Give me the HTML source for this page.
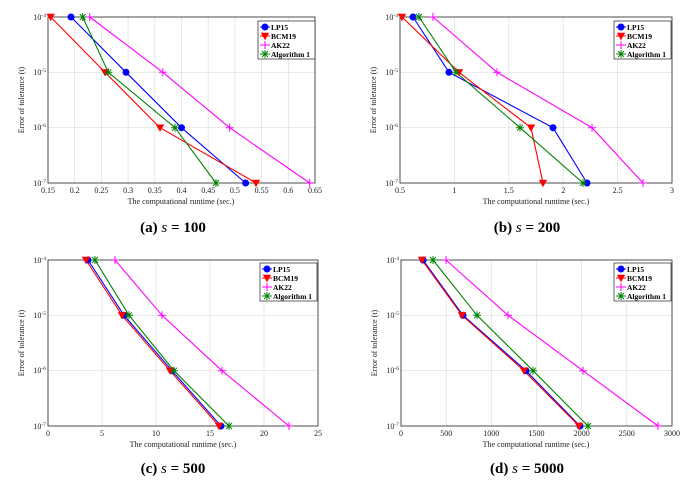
<!DOCTYPE html>
<html><head><meta charset="utf-8"><style>
body{margin:0;background:#fff}
svg{display:block;font-family:"Liberation Serif",serif}
.t{font-size:8px;fill:#222}
.g{stroke:#ddd;stroke-width:0.7}
.bx{fill:none;stroke:#222;stroke-width:0.8}
.lab{font-size:8px;fill:#222}
.cap{font-size:15px;font-weight:bold;fill:#000}
.lg{font-size:7.5px;font-weight:bold;fill:#000}
polyline{stroke-width:1.1}
</style></head><body>
<svg width="693" height="483" viewBox="0 0 693 483">
<defs>
<circle id="c" r="3.5" fill="#0000ff"/>
<path id="v" d="M-4.2,-3.2 L4.2,-3.2 L0,4.2 Z" fill="#ff0000"/>
<path id="p" d="M-4,0 L4,0 M0,-4 L0,4" stroke="#ff00ff" stroke-width="1"/>
<path id="a" d="M-4,0 L4,0 M0,-4 L0,4 M-3,-3 L3,3 M-3,3 L3,-3" stroke="#008000" stroke-width="1"/>
</defs>

<!-- Panel a -->
<g>
<g class="g">
<line x1="74.7" y1="17" x2="74.7" y2="183"/><line x1="101.4" y1="17" x2="101.4" y2="183"/><line x1="128.1" y1="17" x2="128.1" y2="183"/><line x1="154.8" y1="17" x2="154.8" y2="183"/><line x1="181.5" y1="17" x2="181.5" y2="183"/><line x1="208.2" y1="17" x2="208.2" y2="183"/><line x1="234.9" y1="17" x2="234.9" y2="183"/><line x1="261.6" y1="17" x2="261.6" y2="183"/><line x1="288.3" y1="17" x2="288.3" y2="183"/>
<line x1="48" y1="72.3" x2="315" y2="72.3"/><line x1="48" y1="127.7" x2="315" y2="127.7"/>
</g>
<rect class="bx" x="48" y="17" width="267" height="166"/>
<g class="t" text-anchor="middle">
<text x="48" y="193">0.15</text><text x="74.7" y="193">0.2</text><text x="101.4" y="193">0.25</text><text x="128.1" y="193">0.3</text><text x="154.8" y="193">0.35</text><text x="181.5" y="193">0.4</text><text x="208.2" y="193">0.45</text><text x="234.9" y="193">0.5</text><text x="261.6" y="193">0.55</text><text x="288.3" y="193">0.6</text><text x="315" y="193">0.65</text>
</g>
<g class="t" text-anchor="end">
<text x="46" y="20">10<tspan dy="-3" font-size="5.5">-4</tspan></text><text x="46" y="75">10<tspan dy="-3" font-size="5.5">-5</tspan></text><text x="46" y="130">10<tspan dy="-3" font-size="5.5">-6</tspan></text><text x="46" y="186">10<tspan dy="-3" font-size="5.5">-7</tspan></text>
</g>
<text class="lab" x="181" y="204" text-anchor="middle">The computational runtime (sec.)</text>
<text class="lab" transform="translate(24,100) rotate(-90)" text-anchor="middle">Error of tolerance (t)</text>
<polyline fill="none" stroke="#0000ff" points="71,17 126,72.3 181.5,127.7 245.6,183"/>
<polyline fill="none" stroke="#ff0000" points="50.7,17 105,72.3 160,127.7 256,183"/>
<polyline fill="none" stroke="#ff00ff" points="89.7,17 162.8,72.3 229.6,127.7 309.7,183"/>
<polyline fill="none" stroke="#008000" points="82.7,17 108.3,72.3 175,127.7 216,183"/>
<use href="#c" x="71" y="17"/><use href="#c" x="126" y="72.3"/><use href="#c" x="181.5" y="127.7"/><use href="#c" x="245.6" y="183"/>
<use href="#v" x="50.7" y="17"/><use href="#v" x="105" y="72.3"/><use href="#v" x="160" y="127.7"/><use href="#v" x="256" y="183"/>
<use href="#p" x="89.7" y="17"/><use href="#p" x="162.8" y="72.3"/><use href="#p" x="229.6" y="127.7"/><use href="#p" x="309.7" y="183"/>
<use href="#a" x="82.7" y="17"/><use href="#a" x="108.3" y="72.3"/><use href="#a" x="175" y="127.7"/><use href="#a" x="216" y="183"/>
<g transform="translate(258,21)">
<rect x="0" y="0" width="57" height="38" fill="#fff" stroke="#222" stroke-width="0.7"/>
<line x1="2" y1="6" x2="12" y2="6" stroke="#0000ff"/><use href="#c" x="7" y="6"/><text class="lg" x="13" y="9">LP15</text>
<line x1="2" y1="15" x2="12" y2="15" stroke="#ff0000"/><use href="#v" x="7" y="15"/><text class="lg" x="13" y="18">BCM19</text>
<line x1="2" y1="24" x2="12" y2="24" stroke="#ff00ff"/><use href="#p" x="7" y="24"/><text class="lg" x="13" y="27">AK22</text>
<line x1="2" y1="33" x2="12" y2="33" stroke="#008000"/><use href="#a" x="7" y="33"/><text class="lg" x="13" y="36">Algorithm 1</text>
</g>
<text class="cap" x="173" y="232" text-anchor="middle">(a) <tspan font-style="italic" font-weight="normal">s</tspan> = 100</text>
</g>

<!-- Panel b -->
<g>
<g class="g">
<line x1="454.4" y1="17" x2="454.4" y2="183"/><line x1="508.8" y1="17" x2="508.8" y2="183"/><line x1="563.2" y1="17" x2="563.2" y2="183"/><line x1="617.6" y1="17" x2="617.6" y2="183"/>
<line x1="400" y1="72.3" x2="672" y2="72.3"/><line x1="400" y1="127.7" x2="672" y2="127.7"/>
</g>
<rect class="bx" x="400" y="17" width="272" height="166"/>
<g class="t" text-anchor="middle">
<text x="400" y="193">0.5</text><text x="454.4" y="193">1</text><text x="508.8" y="193">1.5</text><text x="563.2" y="193">2</text><text x="617.6" y="193">2.5</text><text x="672" y="193">3</text>
</g>
<g class="t" text-anchor="end">
<text x="398" y="20">10<tspan dy="-3" font-size="5.5">-4</tspan></text><text x="398" y="75">10<tspan dy="-3" font-size="5.5">-5</tspan></text><text x="398" y="130">10<tspan dy="-3" font-size="5.5">-6</tspan></text><text x="398" y="186">10<tspan dy="-3" font-size="5.5">-7</tspan></text>
</g>
<text class="lab" x="536" y="204" text-anchor="middle">The computational runtime (sec.)</text>
<text class="lab" transform="translate(376,100) rotate(-90)" text-anchor="middle">Error of tolerance (t)</text>
<polyline fill="none" stroke="#0000ff" points="413,17 449,72.3 553,127.7 587,183"/>
<polyline fill="none" stroke="#ff0000" points="402,17 459,72.3 531,127.7 543,183"/>
<polyline fill="none" stroke="#ff00ff" points="433,17 497,72.3 592,127.7 643,183"/>
<polyline fill="none" stroke="#008000" points="419,17 456,72.3 520,127.7 583,183"/>
<use href="#c" x="413" y="17"/><use href="#c" x="449" y="72.3"/><use href="#c" x="553" y="127.7"/><use href="#c" x="587" y="183"/>
<use href="#v" x="402" y="17"/><use href="#v" x="459" y="72.3"/><use href="#v" x="531" y="127.7"/><use href="#v" x="543" y="183"/>
<use href="#p" x="433" y="17"/><use href="#p" x="497" y="72.3"/><use href="#p" x="592" y="127.7"/><use href="#p" x="643" y="183"/>
<use href="#a" x="419" y="17"/><use href="#a" x="456" y="72.3"/><use href="#a" x="520" y="127.7"/><use href="#a" x="583" y="183"/>
<g transform="translate(614,21)">
<rect x="0" y="0" width="57" height="38" fill="#fff" stroke="#222" stroke-width="0.7"/>
<line x1="2" y1="6" x2="12" y2="6" stroke="#0000ff"/><use href="#c" x="7" y="6"/><text class="lg" x="13" y="9">LP15</text>
<line x1="2" y1="15" x2="12" y2="15" stroke="#ff0000"/><use href="#v" x="7" y="15"/><text class="lg" x="13" y="18">BCM19</text>
<line x1="2" y1="24" x2="12" y2="24" stroke="#ff00ff"/><use href="#p" x="7" y="24"/><text class="lg" x="13" y="27">AK22</text>
<line x1="2" y1="33" x2="12" y2="33" stroke="#008000"/><use href="#a" x="7" y="33"/><text class="lg" x="13" y="36">Algorithm 1</text>
</g>
<text class="cap" x="527" y="232" text-anchor="middle">(b) <tspan font-style="italic" font-weight="normal">s</tspan> = 200</text>
</g>

<!-- Panel c -->
<g>
<g class="g">
<line x1="102" y1="260" x2="102" y2="426"/><line x1="156" y1="260" x2="156" y2="426"/><line x1="210" y1="260" x2="210" y2="426"/><line x1="264" y1="260" x2="264" y2="426"/>
<line x1="48" y1="315.3" x2="318" y2="315.3"/><line x1="48" y1="370.7" x2="318" y2="370.7"/>
</g>
<rect class="bx" x="48" y="260" width="270" height="166"/>
<g class="t" text-anchor="middle">
<text x="48" y="436">0</text><text x="102" y="436">5</text><text x="156" y="436">10</text><text x="210" y="436">15</text><text x="264" y="436">20</text><text x="318" y="436">25</text>
</g>
<g class="t" text-anchor="end">
<text x="46" y="263">10<tspan dy="-3" font-size="5.5">-4</tspan></text><text x="46" y="318">10<tspan dy="-3" font-size="5.5">-5</tspan></text><text x="46" y="373">10<tspan dy="-3" font-size="5.5">-6</tspan></text><text x="46" y="429">10<tspan dy="-3" font-size="5.5">-7</tspan></text>
</g>
<text class="lab" x="183" y="447" text-anchor="middle">The computational runtime (sec.)</text>
<text class="lab" transform="translate(24,343) rotate(-90)" text-anchor="middle">Error of tolerance (t)</text>
<polyline fill="none" stroke="#0000ff" points="88,260 124,315.3 172,370.7 221,426"/>
<polyline fill="none" stroke="#ff0000" points="86,260 122,315.3 170,370.7 219,426"/>
<polyline fill="none" stroke="#ff00ff" points="115,260 162,315.3 222,370.7 289,426"/>
<polyline fill="none" stroke="#008000" points="95,260 129,315.3 174,370.7 229,426"/>
<use href="#c" x="88" y="260"/><use href="#c" x="124" y="315.3"/><use href="#c" x="172" y="370.7"/><use href="#c" x="221" y="426"/>
<use href="#v" x="86" y="260"/><use href="#v" x="122" y="315.3"/><use href="#v" x="170" y="370.7"/><use href="#v" x="219" y="426"/>
<use href="#p" x="115" y="260"/><use href="#p" x="162" y="315.3"/><use href="#p" x="222" y="370.7"/><use href="#p" x="289" y="426"/>
<use href="#a" x="95" y="260"/><use href="#a" x="129" y="315.3"/><use href="#a" x="174" y="370.7"/><use href="#a" x="229" y="426"/>
<g transform="translate(260,263)">
<rect x="0" y="0" width="57" height="38" fill="#fff" stroke="#222" stroke-width="0.7"/>
<line x1="2" y1="6" x2="12" y2="6" stroke="#0000ff"/><use href="#c" x="7" y="6"/><text class="lg" x="13" y="9">LP15</text>
<line x1="2" y1="15" x2="12" y2="15" stroke="#ff0000"/><use href="#v" x="7" y="15"/><text class="lg" x="13" y="18">BCM19</text>
<line x1="2" y1="24" x2="12" y2="24" stroke="#ff00ff"/><use href="#p" x="7" y="24"/><text class="lg" x="13" y="27">AK22</text>
<line x1="2" y1="33" x2="12" y2="33" stroke="#008000"/><use href="#a" x="7" y="33"/><text class="lg" x="13" y="36">Algorithm 1</text>
</g>
<text class="cap" x="173" y="473" text-anchor="middle">(c) <tspan font-style="italic" font-weight="normal">s</tspan> = 500</text>
</g>

<!-- Panel d -->
<g>
<g class="g">
<line x1="446.2" y1="260" x2="446.2" y2="426"/><line x1="491.3" y1="260" x2="491.3" y2="426"/><line x1="536.5" y1="260" x2="536.5" y2="426"/><line x1="581.7" y1="260" x2="581.7" y2="426"/><line x1="626.8" y1="260" x2="626.8" y2="426"/>
<line x1="401" y1="315.3" x2="672" y2="315.3"/><line x1="401" y1="370.7" x2="672" y2="370.7"/>
</g>
<rect class="bx" x="401" y="260" width="271" height="166"/>
<g class="t" text-anchor="middle">
<text x="401" y="436">0</text><text x="446.2" y="436">500</text><text x="491.3" y="436">1000</text><text x="536.5" y="436">1500</text><text x="581.7" y="436">2000</text><text x="626.8" y="436">2500</text><text x="672" y="436">3000</text>
</g>
<g class="t" text-anchor="end">
<text x="399" y="263">10<tspan dy="-3" font-size="5.5">-4</tspan></text><text x="399" y="318">10<tspan dy="-3" font-size="5.5">-5</tspan></text><text x="399" y="373">10<tspan dy="-3" font-size="5.5">-6</tspan></text><text x="399" y="429">10<tspan dy="-3" font-size="5.5">-7</tspan></text>
</g>
<text class="lab" x="536" y="447" text-anchor="middle">The computational runtime (sec.)</text>
<text class="lab" transform="translate(377,343) rotate(-90)" text-anchor="middle">Error of tolerance (t)</text>
<polyline fill="none" stroke="#0000ff" points="423,260 463,315.3 526,370.7 580,426"/>
<polyline fill="none" stroke="#ff0000" points="422,260 462,315.3 524,370.7 579,426"/>
<polyline fill="none" stroke="#ff00ff" points="446,260 508,315.3 583,370.7 658,426"/>
<polyline fill="none" stroke="#008000" points="433,260 477,315.3 533,370.7 588,426"/>
<use href="#c" x="423" y="260"/><use href="#c" x="463" y="315.3"/><use href="#c" x="526" y="370.7"/><use href="#c" x="580" y="426"/>
<use href="#v" x="422" y="260"/><use href="#v" x="462" y="315.3"/><use href="#v" x="524" y="370.7"/><use href="#v" x="579" y="426"/>
<use href="#p" x="446" y="260"/><use href="#p" x="508" y="315.3"/><use href="#p" x="583" y="370.7"/><use href="#p" x="658" y="426"/>
<use href="#a" x="433" y="260"/><use href="#a" x="477" y="315.3"/><use href="#a" x="533" y="370.7"/><use href="#a" x="588" y="426"/>
<g transform="translate(614,263)">
<rect x="0" y="0" width="57" height="38" fill="#fff" stroke="#222" stroke-width="0.7"/>
<line x1="2" y1="6" x2="12" y2="6" stroke="#0000ff"/><use href="#c" x="7" y="6"/><text class="lg" x="13" y="9">LP15</text>
<line x1="2" y1="15" x2="12" y2="15" stroke="#ff0000"/><use href="#v" x="7" y="15"/><text class="lg" x="13" y="18">BCM19</text>
<line x1="2" y1="24" x2="12" y2="24" stroke="#ff00ff"/><use href="#p" x="7" y="24"/><text class="lg" x="13" y="27">AK22</text>
<line x1="2" y1="33" x2="12" y2="33" stroke="#008000"/><use href="#a" x="7" y="33"/><text class="lg" x="13" y="36">Algorithm 1</text>
</g>
<text class="cap" x="527" y="473" text-anchor="middle">(d) <tspan font-style="italic" font-weight="normal">s</tspan> = 5000</text>
</g>
</svg>
</body></html>
